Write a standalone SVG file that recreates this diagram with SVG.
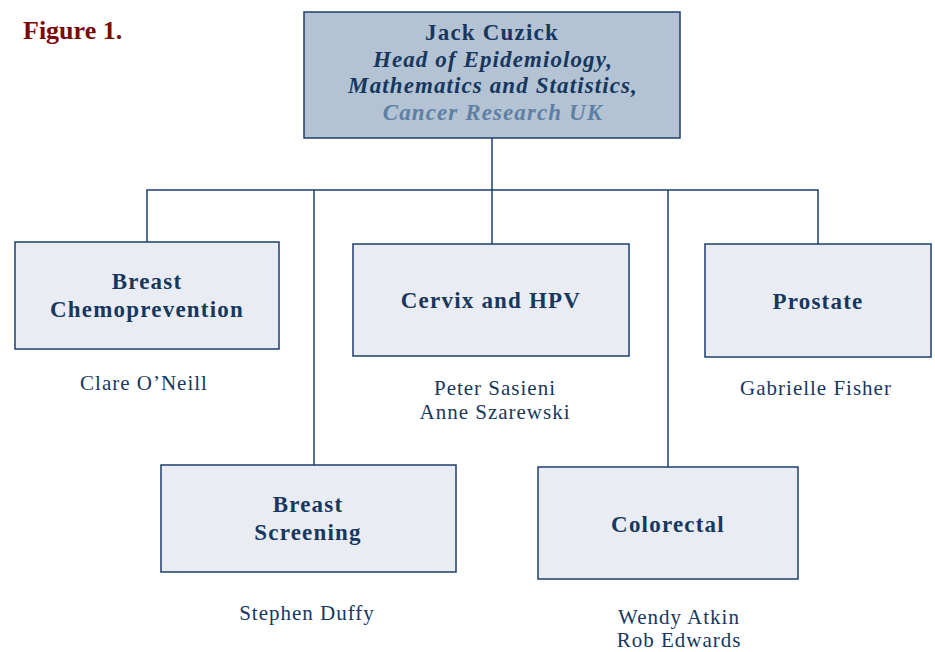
<svg xmlns="http://www.w3.org/2000/svg" width="935" height="652" viewBox="0 0 935 652">
<style>
.bg{fill:#ffffff}
.box{fill:#e9edf3;stroke:#1c3f6e;stroke-width:1.5}
.top{fill:#b3c3d4;stroke:#1c3f6e;stroke-width:1.5}
.t{font-family:"Liberation Serif","Times New Roman",serif;fill:#17375e;text-anchor:middle}
.b{font-weight:bold;font-size:23px;letter-spacing:1.2px}
.bi{font-weight:bold;font-style:italic;font-size:23px;letter-spacing:1.1px}
.n{font-size:21px;letter-spacing:1px}
.line{stroke:#1c3f6e;stroke-width:1.5;fill:none}
</style>
<rect class="bg" x="0" y="0" width="935" height="652"/>
<text x="23" y="39" font-family="Liberation Serif, Times New Roman, serif" font-weight="bold" font-size="26" fill="#7a0a0a">Figure 1.</text>
<g id="connectors">
<line class="line" x1="492" y1="138" x2="492" y2="190" stroke-width="2.2"/>
<polyline class="line" points="147,242 147,190 818,190 818,244"/>
<line class="line" x1="314" y1="190" x2="314" y2="465"/>
<line class="line" x1="492" y1="190" x2="492" y2="244"/>
<line class="line" x1="668" y1="190" x2="668" y2="467"/>
</g>
<g id="head">
<rect class="top" x="304" y="12" width="376" height="126"/>
<text class="t b" x="492" y="40">Jack Cuzick</text>
<text class="t bi" x="493" y="67">Head of Epidemiology,</text>
<text class="t bi" x="493" y="93">Mathematics and Statistics,</text>
<text class="t bi" x="493" y="120" style="fill:#5f7fa3">Cancer Research UK</text>
</g>
<g id="breast-chemo">
<rect class="box" x="15" y="242" width="264" height="107"/>
<text class="t b" x="147" y="289">Breast</text>
<text class="t b" x="147" y="317">Chemoprevention</text>
<text class="t n" x="144" y="390">Clare O’Neill</text>
</g>
<g id="cervix">
<rect class="box" x="353" y="244" width="276" height="112"/>
<text class="t b" x="491" y="308">Cervix and HPV</text>
<text class="t n" x="495" y="395">Peter Sasieni</text>
<text class="t n" x="495" y="419">Anne Szarewski</text>
</g>
<g id="prostate">
<rect class="box" x="705" y="244" width="226" height="113"/>
<text class="t b" x="818" y="309">Prostate</text>
<text class="t n" x="816" y="395">Gabrielle Fisher</text>
</g>
<g id="breast-screening">
<rect class="box" x="161" y="465" width="295" height="107"/>
<text class="t b" x="308" y="512">Breast</text>
<text class="t b" x="308" y="540">Screening</text>
<text class="t n" x="307" y="620">Stephen Duffy</text>
</g>
<g id="colorectal">
<rect class="box" x="538" y="467" width="260" height="112"/>
<text class="t b" x="668" y="532">Colorectal</text>
<text class="t n" x="679" y="624">Wendy Atkin</text>
<text class="t n" x="679" y="647">Rob Edwards</text>
</g>
</svg>
